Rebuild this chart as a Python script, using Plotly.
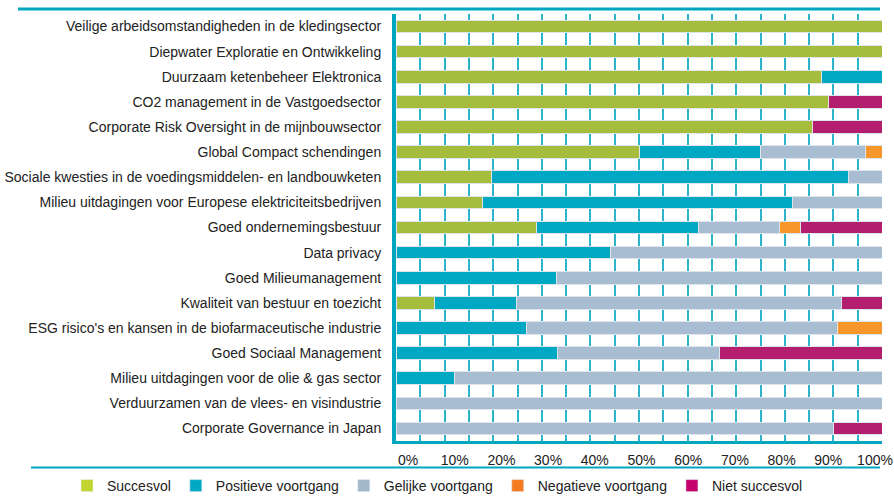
import plotly.graph_objects as go

categories = [
    "Veilige arbeidsomstandigheden in de kledingsector",
    "Diepwater Exploratie en Ontwikkeling",
    "Duurzaam ketenbeheer Elektronica",
    "CO2 management in de Vastgoedsector",
    "Corporate Risk Oversight in de mijnbouwsector",
    "Global Compact schendingen",
    "Sociale kwesties in de voedingsmiddelen- en landbouwketen",
    "Milieu uitdagingen voor Europese elektriciteitsbedrijven",
    "Goed ondernemingsbestuur",
    "Data privacy",
    "Goed Milieumanagement",
    "Kwaliteit van bestuur en toezicht",
    "ESG risico's en kansen in de biofarmaceutische industrie",
    "Goed Sociaal Management",
    "Milieu uitdagingen voor de olie & gas sector",
    "Verduurzamen van de vlees- en visindustrie",
    "Corporate Governance in Japan",
]

succesvol = [100, 100, 87.5, 88.9, 85.7, 50, 19.6, 17.8, 28.9, 0, 0, 8.0, 0, 0, 0, 0, 0]
positieve = [0, 0, 12.5, 0, 0, 25, 73.6, 63.8, 33.4, 44.2, 33.0, 16.7, 26.9, 33.3, 12.0, 0, 0]
gelijke = [0, 0, 0, 0, 0, 21.7, 6.8, 18.4, 16.7, 55.8, 67.0, 66.9, 63.9, 33.3, 88.0, 100, 90]
negatieve = [0, 0, 0, 0, 0, 3.3, 0, 0, 4.2, 0, 0, 0, 9.2, 0, 0, 0, 0]
niet = [0, 0, 0, 11.1, 14.3, 0, 0, 0, 16.8, 0, 0, 8.4, 0, 33.4, 0, 0, 10]

series_names = ["Succesvol", "Positieve voortgang", "Gelijke voortgang", "Negatieve voortgang", "Niet succesvol"]
series_values = [succesvol, positieve, gelijke, negatieve, niet]
bar_colors = ["#A5BC3C", "#00A8C3", "#A8BDD2", "#F7962B", "#B31F6E"]
legend_colors = ["#C2D52F", "#00A8C5", "#A3B7CB", "#F47B20", "#C5006D"]

tick_vals = [0, 10, 20, 30, 40, 50, 60, 70, 80, 90, 100]
tick_text = ["0%", "10%", "20%", "30%", "40%", "50%", "60%", "70%", "80%", "90%", "100%"]

TEAL = "#00A6C0"
FONT = "Liberation Sans"

fig = go.Figure()
for name, vals, col in zip(series_names, series_values, bar_colors):
    fig.add_trace(go.Bar(
        x=vals, y=categories, orientation="h", name=name,
        marker=dict(color=col, line=dict(color="#DDE5EB", width=1)),
        width=0.5, showlegend=False, hoverinfo="x+y+name",
    ))
for name, col in zip(series_names, legend_colors):
    fig.add_trace(go.Bar(x=[None], y=[None], orientation="h", name=name,
                         marker=dict(color=col), showlegend=True))

# invisible overlay axis carrying the percentage labels
fig.add_trace(go.Scatter(x=[None], y=[None], xaxis="x2", showlegend=False, hoverinfo="skip"))

fig.update_layout(
    width=894, height=497,
    margin=dict(l=396, r=12, t=14, b=56, autoexpand=False),
    paper_bgcolor="white", plot_bgcolor="white",
    barmode="stack",
    font=dict(family=FONT, size=14, color="#222222"),
    xaxis=dict(
        range=[0, 100], showticklabels=False, automargin=False,
        tickvals=tick_vals, showgrid=True, gridcolor="#2DB3CA", gridwidth=1.5,
        minor=dict(dtick=5, showgrid=True, gridcolor="#2DB3CA", gridwidth=1.5),
        showline=True, linecolor=TEAL, linewidth=3, zeroline=False, fixedrange=True,
    ),
    xaxis2=dict(
        overlaying="x", anchor="y", side="bottom", range=[-2.57, 101.5],
        automargin=False,
        tickvals=tick_vals, ticktext=tick_text, showgrid=False, zeroline=False,
        showline=False, ticks="outside", ticklen=6, tickcolor="rgba(0,0,0,0)",
        tickfont=dict(family=FONT, size=14, color="#222222"),
    ),
    yaxis=dict(
        categoryorder="array", categoryarray=categories, autorange="reversed",
        range=[16.5, -0.5], showgrid=False, zeroline=False, automargin=False,
        showline=True, linecolor=TEAL, linewidth=4,
        ticks="outside", ticklen=8, tickcolor="rgba(0,0,0,0)",
        tickfont=dict(family=FONT, size=14, color="#222222"),
    ),
    legend=dict(
        orientation="h", xref="paper", yref="paper",
        x=(67 - 396) / 486, y=-(486 - 441) / 427, xanchor="left", yanchor="middle",
        font=dict(family=FONT, size=14, color="#222222"),
        traceorder="normal", bgcolor="rgba(0,0,0,0)",
    ),
    shapes=[
        dict(type="line", xref="paper", yref="paper",
             x0=(18 - 396) / 486, x1=(880 - 396) / 486, y0=1 + 5 / 427, y1=1 + 5 / 427,
             line=dict(color=TEAL, width=3)),
        dict(type="line", xref="paper", yref="paper",
             x0=(31 - 396) / 486, x1=(880 - 396) / 486, y0=-26.5 / 427, y1=-26.5 / 427,
             line=dict(color=TEAL, width=2)),
    ],
)

fig.write_html("out.html", config={"displayModeBar": False},
               post_script="document.body.style.margin='0px';")
